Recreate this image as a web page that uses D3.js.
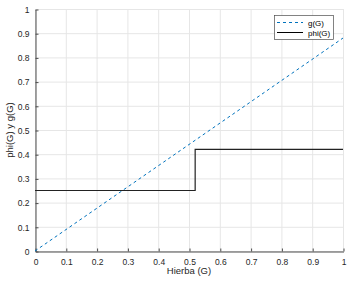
<!DOCTYPE html>
<html><head><meta charset="utf-8">
<script src="https://cdn.jsdelivr.net/npm/d3@7"></script>
<style>body{margin:0;background:#fff}svg{display:block}text{font-family:"Liberation Sans",Arial,sans-serif}</style>
</head><body><svg id="c" width="351" height="283"></svg>
<script>
const xTicks=[0,0.1,0.2,0.3,0.4,0.5,0.6,0.7,0.8,0.9,1];
const yTicks=[0,0.1,0.2,0.3,0.4,0.5,0.6,0.7,0.8,0.9,1];
const gX=[0,1];
const gY=[0,0.88];
const phiX=[0,0.52,0.52,1];
const phiY=[0.25,0.25,0.42,0.42];
const seriesNames=["g(G)","phi(G)"];
const xLabel="Hierba (G)", yLabel="phi(G) y g(G)";

const svg=d3.select("#c");
const L=35,R=343,T=9,B=251;
const x=d3.scaleLinear().domain([0,1]).range([L,R]);
const y=d3.scaleLinear().domain([0,1]).range([B,T]);
const ax="#4d4d4d";
// grid
svg.append("g").selectAll("line").data(xTicks).join("line")
 .attr("x1",d=>x(d)+0.5).attr("x2",d=>x(d)+0.5).attr("y1",T).attr("y2",B).attr("stroke","#e6e6e6");
svg.append("g").selectAll("line").data(yTicks).join("line")
 .attr("y1",d=>y(d)+0.5).attr("y2",d=>y(d)+0.5).attr("x1",L).attr("x2",R).attr("stroke","#e6e6e6");
// axes
const xa=svg.append("g").attr("transform",`translate(0.5,${B+0.5})`)
 .call(d3.axisBottom(x).tickValues(xTicks).tickSizeInner(-3).tickSizeOuter(0).tickPadding(7).tickFormat(d3.format("")));
const ya=svg.append("g").attr("transform",`translate(${L+0.5},0.5)`)
 .call(d3.axisLeft(y).tickValues(yTicks).tickSizeInner(-3).tickSizeOuter(0).tickPadding(6).tickFormat(d3.format("")));
[xa,ya].forEach(a=>{a.select(".domain").attr("stroke",ax);a.selectAll(".tick line").attr("stroke",ax);
 a.selectAll("text").attr("fill","#262626").style("font-size","8.5px");});
// lines
const line=d3.line().x(d=>x(d[0])).y(d=>y(d[1]));
svg.append("path").datum(gX.map((v,i)=>[v,gY[i]])).attr("d",line).attr("fill","none")
 .attr("stroke","#0072bd").attr("stroke-width",1).attr("stroke-dasharray","3,3");
svg.append("path").datum(phiX.map((v,i)=>[v,phiY[i]])).attr("d",line).attr("fill","none")
 .attr("stroke","#222").attr("stroke-width",1.2);
// labels
svg.append("text").attr("x",(L+R)/2).attr("y",274).attr("text-anchor","middle").attr("fill","#262626").style("font-size","9.5px").text(xLabel);
svg.append("text").attr("transform",`translate(13,${(T+B)/2}) rotate(-90)`).attr("text-anchor","middle").attr("fill","#262626").style("font-size","9.5px").text(yLabel);
// legend
const lg=svg.append("g");
lg.append("rect").attr("x",274.5).attr("y",15.5).attr("width",59).attr("height",24).attr("fill","#fff").attr("stroke","#4d4d4d").attr("stroke-width",0.7);
const ls=[{c:"#0072bd",d:"3,3"},{c:"#000",d:null}];
seriesNames.forEach((n,i)=>{
 const yy=22.5+i*10;
 lg.append("line").attr("x1",277).attr("x2",303).attr("y1",yy).attr("y2",yy).attr("stroke",ls[i].c).attr("stroke-dasharray",ls[i].d);
 lg.append("text").attr("x",308).attr("y",yy+3).attr("fill","#000").style("font-size","8px").text(n);
});
</script></body></html>
